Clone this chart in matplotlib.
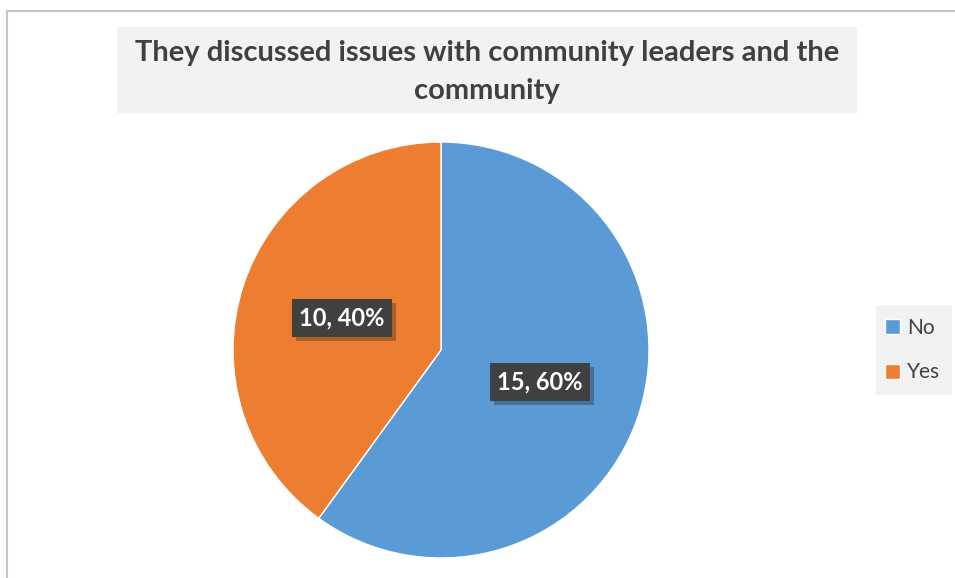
import matplotlib.pyplot as plt
from matplotlib.patches import Rectangle
import matplotlib.patheffects as pe

labels = ["No", "Yes"]
counts = [15, 10]
colors = ["#5b9bd5", "#ed7d31"]
title = "They discussed issues with community leaders and the\ncommunity"

plt.rcParams['font.family'] = ['Lato', 'DejaVu Sans']

W, H = 955, 578
fig = plt.figure(figsize=(W / 100, H / 100), dpi=100)

# outer chart border (left and top visible)
fig.patches.append(Rectangle((7 / W, -0.05), 1.1, (H - 11) / H + 0.05,
                             transform=fig.transFigure, fill=False,
                             edgecolor="#c6c6c6", linewidth=1.5))

# title with grey background
fig.patches.append(Rectangle((117 / W, 1 - 113 / H), 740 / W, 86 / H,
                             transform=fig.transFigure, facecolor="#f2f2f2",
                             edgecolor="none"))
fig.text(487 / W, 1 - 72 / H, title, ha="center", va="center",
         fontsize=21, fontweight="bold", color="#404040", linespacing=1.55)

# pie centred at (441, 350) px, radius 208 px
r = 208
ax = fig.add_axes([(441 - r) / W, (H - 350 - r) / H, 2 * r / W, 2 * r / H])
total = sum(counts)


def fmt(p):
    return "{:d}, {:.0f}%".format(int(round(p * total / 100)), p)


wedges, texts = ax.pie(counts, colors=colors, startangle=90, counterclock=False,
                       radius=1, wedgeprops=dict(edgecolor="white", linewidth=1),
                       labels=[fmt(100 * c / total) for c in counts],
                       labeldistance=0.5)
for t in texts:
    t.set_ha("center")
    t.set_va("center")
    t.set_color("white")
    t.set_fontsize(17)
    t.set_fontweight("bold")
    t.set_bbox(dict(boxstyle="square,pad=0.32", facecolor="#404040",
                    edgecolor="none"))
    t.get_bbox_patch().set_path_effects(
        [pe.SimplePatchShadow(offset=(3, -3), alpha=0.3), pe.Normal()])
ax.set_xlim(-1, 1)
ax.set_ylim(-1, 1)
ax.set_aspect("auto")
ax.axis("off")

# legend on the right
fig.patches.append(Rectangle((876 / W, 1 - 395 / H), 76 / W, 90 / H,
                             transform=fig.transFigure, facecolor="#f2f2f2",
                             edgecolor="none"))
leg = fig.legend(wedges, labels, loc="center left",
                 bbox_to_anchor=(877 / W, 1 - 350 / H), frameon=False,
                 fontsize=15, handlelength=0.7, handleheight=0.7,
                 handletextpad=0.35, labelspacing=1.2, borderaxespad=0)
for t in leg.get_texts():
    t.set_color("#404040")

fig.savefig("out.png", dpi=100)
